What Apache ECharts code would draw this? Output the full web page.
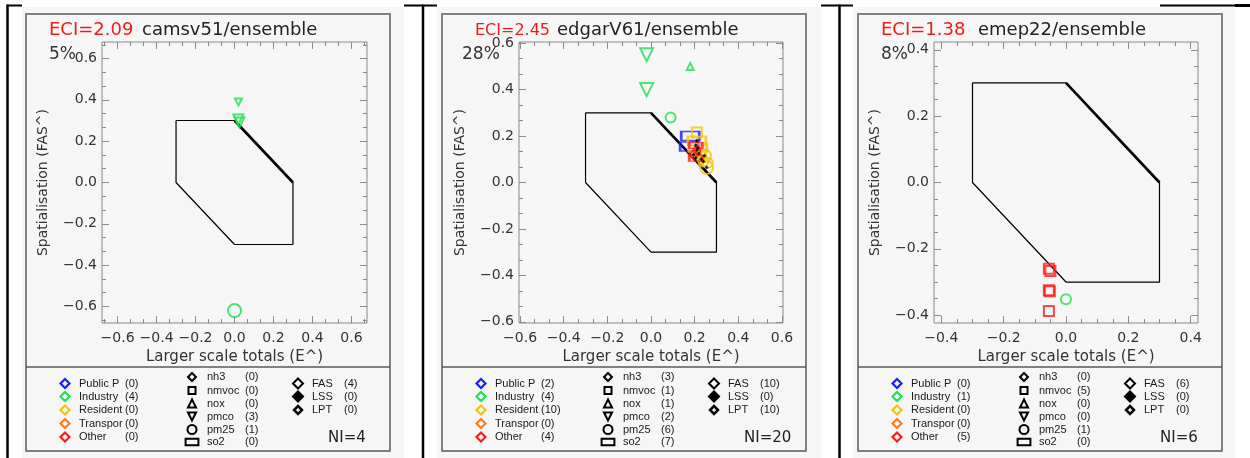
<!DOCTYPE html>
<html><head><meta charset="utf-8">
<script src="https://cdn.jsdelivr.net/npm/echarts@6/dist/echarts.min.js"></script>
<style>html,body{margin:0;padding:0;background:#fff}#c{width:1250px;height:458px}</style>
</head><body><div id="c"></div>
<script>
// ---------------- data ----------------
const models = ['camsv51', 'edgarV61', 'emep22'];
const eciValues = [2.09, 2.45, 1.38];
const pctLabels = ['5%', '28%', '8%'];
const niValues = [4, 20, 6];
const axisRanges = [0.68, 0.605, 0.4235];
const tickLabels = [
  [-0.6, -0.4, -0.2, 0.0, 0.2, 0.4, 0.6],
  [-0.6, -0.4, -0.2, 0.0, 0.2, 0.4, 0.6],
  [-0.4, -0.2, 0.0, 0.2, 0.4]
];
const minorSteps = [0.2 / 3, 0.2 / 3, 0.05];

const sectors = ['Public P', 'Industry', 'Resident', 'Transpor', 'Other'];
const species = ['nh3', 'nmvoc', 'nox', 'pmco', 'pm25', 'so2'];
const flags = ['FAS', 'LSS', 'LPT'];
const sectorCounts = [[0, 4, 0, 0, 0], [2, 4, 10, 0, 4], [0, 1, 0, 0, 5]];
const speciesCounts = [[0, 0, 0, 3, 1, 0], [3, 1, 1, 2, 6, 7], [0, 5, 0, 0, 1, 0]];
const flagCounts = [[4, 0, 0], [10, 0, 10], [6, 0, 0]];

// acceptance box (E^, FAS^)
const boxX = [-0.3, 0.0, 0.3, 0.3, 0.0, -0.3, -0.3];
const boxY = [0.3, 0.3, 0.0, -0.3, -0.3, 0.0, 0.3];

// panel 1: camsv51/ensemble
const p1X = [0.00, 0.02, 0.02, 0.025];
const p1Y = [-0.62, 0.39, 0.305, 0.29];
const p1Sector = [1, 1, 1, 1];
const p1Species = [4, 3, 3, 3];
const p1Mag = [3, 1, 2, 2];
const p1Lpt = [0, 0, 0, 0];

// panel 2: edgarV61/ensemble
const p2X = [-0.02, -0.02, 0.18, 0.09, 0.18, 0.175, 0.21, 0.21, 0.215, 0.22, 0.245, 0.255, 0.24, 0.26, 0.23, 0.215, 0.205, 0.205, 0.21, 0.195];
const p2Y = [0.55, 0.40, 0.50, 0.28, 0.20, 0.155, 0.215, 0.18, 0.15, 0.125, 0.115, 0.065, 0.09, 0.085, 0.10, 0.135, 0.16, 0.105, 0.14, 0.12];
const p2Sector = [1, 1, 1, 1, 0, 0, 2, 2, 2, 2, 2, 2, 2, 2, 2, 2, 4, 4, 4, 4];
const p2Species = [3, 3, 2, 4, 5, 5, 1, 5, 5, 5, 4, 4, 4, 4, 0, 0, 5, 5, 4, 0];
const p2Mag = [3, 3, 1, 2, 2, 2, 2, 2, 2, 1, 3, 3, 2, 2, 1, 1, 1, 1, 1, 1];
const p2Lpt = [0, 0, 0, 0, 0, 0, 0, 1, 1, 1, 1, 1, 1, 0, 1, 0, 1, 1, 1, 1];

// panel 3: emep22/ensemble
const p3X = [-0.055, -0.05, -0.055, -0.052, -0.055, 0.0];
const p3Y = [-0.26, -0.267, -0.325, -0.328, -0.387, -0.352];
const p3Sector = [4, 4, 4, 4, 4, 1];
const p3Species = [1, 1, 1, 1, 1, 4];
const p3Mag = [2, 2, 2, 2, 2, 2];
const p3Lpt = [0, 0, 0, 0, 0, 0];

// ---------------- styles / layout ----------------
const FONT = '"DejaVu Sans", sans-serif';
const LFONT = '"Liberation Sans", Arial, sans-serif';
const sectorColors = ['#1c1cf0', '#1fe050', '#f2c40f', '#f58220', '#ff1a1a'];
const panelX = [26, 442, 858];
const grids = [
  {left: 102, top: 42, width: 265, height: 281},
  {left: 519, top: 42, width: 264, height: 281},
  {left: 934, top: 42, width: 264, height: 281}
];
const eciLeft = [49, 475, 881];
const eciSize = [18, 16, 18];
const modelLeft = [142, 557, 978];
const pctLeft = [49, 462, 881];
const TICK = '#8a8a8a';

const panels = [
  {x: p1X, y: p1Y, s: p1Sector, sp: p1Species, m: p1Mag, l: p1Lpt},
  {x: p2X, y: p2Y, s: p2Sector, sp: p2Species, m: p2Mag, l: p2Lpt},
  {x: p3X, y: p3Y, s: p3Sector, sp: p3Species, m: p3Mag, l: p3Lpt}
];

function fmt(v) { const r = Math.round(v * 10) / 10; return (r < 0 ? '\u2212' : '') + Math.abs(r).toFixed(1); }
function minors(range, step, majors) {
  const out = []; const n = Math.floor(range / step + 1e-9);
  for (let i = -n; i <= n; i++) {
    const v = +(i * step).toFixed(6);
    if (!majors.some(m => Math.abs(m - v) < 1e-6)) out.push(v);
  }
  return out;
}

const xAxes = [], yAxes = [], series = [], graphic = [];

function axisSet(p, isX) {
  const R = axisRanges[p], maj = tickLabels[p], mn = minors(R, minorSteps[p], maj);
  const base = {gridIndex: p, type: 'value', min: -R, max: R, axisLine: {show: false, onZero: false}, splitLine: {show: false}};
  const pos = isX ? ['bottom', 'top'] : ['left', 'right'];
  const list = [];
  list.push(Object.assign({}, base, {
    position: pos[0],
    axisTick: {show: true, inside: true, length: 7, customValues: maj, lineStyle: {color: TICK, width: 1}},
    axisLabel: {show: true, customValues: maj, formatter: fmt, margin: isX ? 8 : 5, fontSize: 14, fontFamily: FONT, color: '#333'},
    name: isX ? 'Larger scale totals (E^)' : 'Spatialisation (FAS^)',
    nameLocation: 'middle', nameGap: isX ? 21 : 52,
    nameTextStyle: {fontSize: isX ? 15 : 14, fontFamily: FONT, color: '#333'}
  }));
  list.push(Object.assign({}, base, {position: pos[0],
    axisTick: {show: true, inside: true, length: 4, customValues: mn, lineStyle: {color: TICK, width: 1}},
    axisLabel: {show: false}}));
  list.push(Object.assign({}, base, {position: pos[1],
    axisTick: {show: true, inside: true, length: 7, customValues: maj, lineStyle: {color: TICK, width: 1}},
    axisLabel: {show: false}}));
  list.push(Object.assign({}, base, {position: pos[1],
    axisTick: {show: true, inside: true, length: 4, customValues: mn, lineStyle: {color: TICK, width: 1}},
    axisLabel: {show: false}}));
  return list;
}

function markerFor(spIdx, mag, color) {
  const size = 4 + 3 * mag;
  const it = {itemStyle: {color: 'rgba(0,0,0,0)', borderColor: color, borderWidth: 2}};
  switch (species[spIdx]) {
    case 'nh3': it.symbol = 'diamond'; it.symbolSize = size + 2; break;
    case 'nmvoc': it.symbol = 'rect'; it.symbolSize = size; break;
    case 'nox': it.symbol = 'triangle'; it.symbolSize = size; break;
    case 'pmco': it.symbol = 'triangle'; it.symbolRotate = 180; it.symbolSize = size; break;
    case 'pm25': it.symbol = 'circle'; it.symbolSize = size; break;
    case 'so2': it.symbol = 'rect'; it.symbolSize = [Math.round(size * 1.8), Math.round(size * 0.9)]; break;
  }
  return it;
}

// legend shape helper
function shape(kind, cx, cy, s, stroke, fill, lw) {
  const h = s / 2;
  const st = {stroke: stroke, fill: fill || 'none', lineWidth: lw || 2};
  switch (kind) {
    case 'diamond': return {type: 'polygon', shape: {points: [[cx, cy - h], [cx + h, cy], [cx, cy + h], [cx - h, cy]]}, style: st};
    case 'square': return {type: 'rect', shape: {x: cx - h, y: cy - h, width: s, height: s}, style: st};
    case 'triUp': return {type: 'polygon', shape: {points: [[cx, cy - h], [cx + h, cy + h], [cx - h, cy + h]]}, style: st};
    case 'triDown': return {type: 'polygon', shape: {points: [[cx - h, cy - h], [cx + h, cy - h], [cx, cy + h]]}, style: st};
    case 'circle': return {type: 'circle', shape: {cx: cx, cy: cy, r: h}, style: st};
    case 'wrect': return {type: 'rect', shape: {x: cx - s * 0.8, y: cy - s * 0.4, width: s * 1.6, height: s * 0.8}, style: st};
  }
}
function txt(t, x, y, size, color, family) {
  return {type: 'text', style: {text: t, x: x, y: y, font: size + 'px ' + (family || FONT), fill: color || '#1a1a1a',
    textAlign: 'left', textVerticalAlign: 'middle', align: 'left', verticalAlign: 'middle'}};
}

// table background / borders
const bgSpans = [[22, 404], [437, 821], [853, 1235]];
bgSpans.forEach(b => graphic.push({type: 'rect', z: -10, shape: {x: b[0], y: 7, width: b[1] - b[0], height: 451}, style: {fill: '#f6f6f6'}}));
[[7, 22], [404, 437], [821, 853], [1160, 1235]].forEach(s => graphic.push({type: 'line', z: 5, shape: {x1: s[0], y1: 5.5, x2: s[1], y2: 5.5}, style: {stroke: '#000', lineWidth: 2}}));
graphic.push({type: 'line', z: 5, shape: {x1: 1235, y1: 5.5, x2: 1250, y2: 5.5}, style: {stroke: '#000', lineWidth: 3}});
[7.5, 423, 839.5].forEach(x => graphic.push({type: 'line', z: 5, shape: {x1: x, y1: 4.5, x2: x, y2: 458}, style: {stroke: '#000', lineWidth: 2.5}}));

const col2Kinds = ['diamond', 'square', 'triUp', 'triDown', 'circle', 'wrect'];
const col2Sizes = [8, 7, 8, 8, 9, 8];
const row1Y = [383.5, 396.5, 410, 423.5, 437];
const row2Y = [377, 390.5, 403.5, 416.5, 429.5, 442];
const LF = 11;

for (let p = 0; p < 3; p++) {
  xAxes.push(...axisSet(p, true));
  yAxes.push(...axisSet(p, false));
  const xi = p * 4, yi = p * 4;
  series.push({type: 'line', xAxisIndex: xi, yAxisIndex: yi, symbol: 'none', silent: true, z: 2,
    data: boxX.map((v, i) => [v, boxY[i]]), lineStyle: {color: '#000', width: 1.2}});
  series.push({type: 'line', xAxisIndex: xi, yAxisIndex: yi, symbol: 'none', silent: true, z: 2,
    data: [[boxX[1], boxY[1]], [boxX[2], boxY[2]]], lineStyle: {color: '#000', width: 2.6}});
  const P = panels[p];
  series.push({type: 'scatter', xAxisIndex: xi, yAxisIndex: yi, z: 3,
    data: P.x.map((v, i) => Object.assign({value: [v, P.y[i]]}, markerFor(P.sp[i], P.m[i], sectorColors[P.s[i]])))});
  series.push({type: 'scatter', xAxisIndex: xi, yAxisIndex: yi, z: 4, symbol: 'diamond', symbolSize: 4,
    itemStyle: {color: '#000'},
    data: P.x.map((v, i) => [v, P.y[i], P.l[i]]).filter(d => d[2] === 1).map(d => [d[0], d[1]])});

  const fx = panelX[p];
  graphic.push({type: 'rect', z: 1, shape: {x: fx, y: 14, width: 364, height: 437}, style: {fill: 'none', stroke: '#5a5a5a', lineWidth: 1.5}});
  graphic.push({type: 'line', z: 1, shape: {x1: fx, y1: 367, x2: fx + 364, y2: 367}, style: {stroke: '#5a5a5a', lineWidth: 1.5}});
  // titles
  graphic.push(txt('ECI=' + eciValues[p].toFixed(2), eciLeft[p], 30.5, eciSize[p], '#f01c1c'));
  graphic.push(txt(models[p] + '/ensemble', modelLeft[p], 30.5, 18, '#222'));
  graphic.push(txt(pctLabels[p], pctLeft[p], 55, 17, '#333'));
  // legend
  sectors.forEach((s, i) => {
    graphic.push(shape('diamond', fx + 39, row1Y[i], 9, sectorColors[i], 'none', 2.2));
    graphic.push(txt(s, fx + 53, row1Y[i], LF, null, LFONT));
    graphic.push(txt('(' + sectorCounts[p][i] + ')', fx + 99, row1Y[i], LF, null, LFONT));
  });
  species.forEach((s, i) => {
    graphic.push(shape(col2Kinds[i], fx + 166, row2Y[i], col2Sizes[i], '#000', 'none', 2));
    graphic.push(txt(s, fx + 181, row2Y[i], LF, null, LFONT));
    graphic.push(txt('(' + speciesCounts[p][i] + ')', fx + 219, row2Y[i], LF, null, LFONT));
  });
  flags.forEach((s, i) => {
    const filled = s === 'LSS';
    graphic.push(shape('diamond', fx + 272, row1Y[i], s === 'LPT' ? 8 : 10, '#000', filled ? '#000' : 'none', s === 'LPT' ? 2.5 : 2));
    graphic.push(txt(s, fx + 286, row1Y[i], LF, null, LFONT));
    graphic.push(txt('(' + flagCounts[p][i] + ')', fx + 318, row1Y[i], LF, null, LFONT));
  });
  graphic.push(txt('NI=' + niValues[p], fx + 302, 438, 15, '#222'));
}

const chart = echarts.init(document.getElementById('c'), null, {renderer: 'canvas'});
chart.setOption({
  animation: false,
  backgroundColor: '#fff',
  grid: grids.map(g => Object.assign({show: true, borderColor: '#8a8a8a', borderWidth: 1, backgroundColor: 'transparent'}, g)),
  xAxis: xAxes,
  yAxis: yAxes,
  series: series,
  graphic: graphic
});
</script>
</body></html>
